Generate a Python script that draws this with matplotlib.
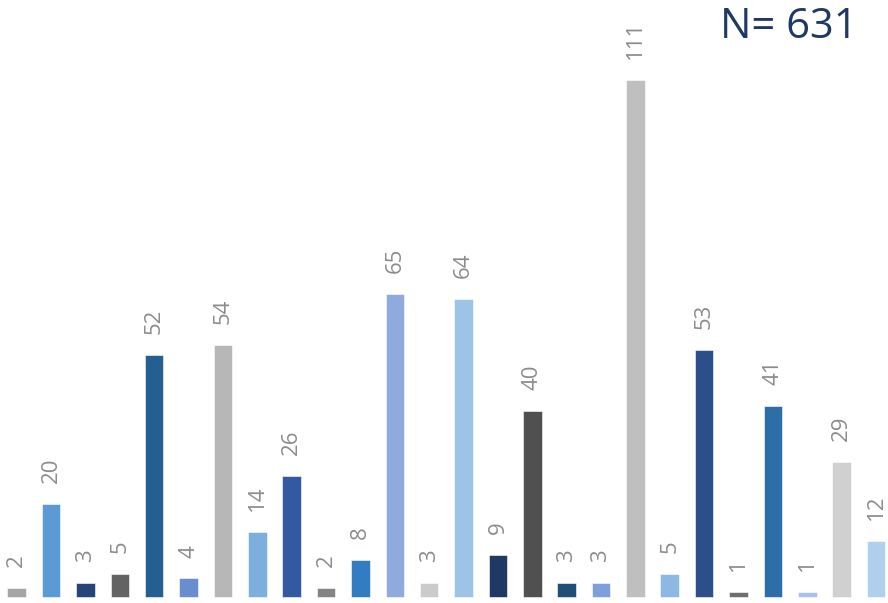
import matplotlib
matplotlib.use("Agg")
import matplotlib.pyplot as plt

# 막대 값
values = [2, 20, 3, 5, 52, 4, 54, 14, 26, 2, 8, 65, 3, 64, 9, 40, 3, 3, 111, 5, 53, 1, 41, 1, 29, 12]
colors = ["#A5A5A5", "#5B9BD5", "#264478", "#636363", "#255E91", "#698ED0", "#B7B7B7",
          "#7CAFDD", "#335AA1", "#848484", "#327DC2", "#8FAADC", "#CBCBCB", "#9DC3E6",
          "#203864", "#505050", "#1F4E79", "#7F9FDB", "#BFBFBF", "#8CB9E4", "#2C4E8A",
          "#6E6E6E", "#2E6EA8", "#A9C0EA", "#D0D0D0", "#B0CFEE"]
total_label = "N= 631"

plt.rcParams['font.family'] = ['Open Sans', 'DejaVu Sans']

fig = plt.figure(figsize=(8.88, 6.03), dpi=100)
ax = fig.add_axes([0, 0, 1, 1])

x = list(range(len(values)))
bars = ax.bar(x, values, width=0.54, color=colors, edgecolor='white', linewidth=0.4)

# 값 라벨 (세로)
for xi, v in zip(x, values):
    ax.annotate(str(v), (xi, v), xytext=(0, 15), textcoords='offset points',
                rotation=90, ha='center', va='bottom', fontsize=16, color='#8C8C8C')

ax.text(0.966, 0.99, total_label, transform=ax.transAxes, ha='right', va='top',
        fontsize=30, color='#1F3864')

ax.set_xlim(-0.486, 25.35)
ax.set_ylim(-1.29, 128.1)
ax.axis('off')

fig.savefig("out.png", dpi=100)
